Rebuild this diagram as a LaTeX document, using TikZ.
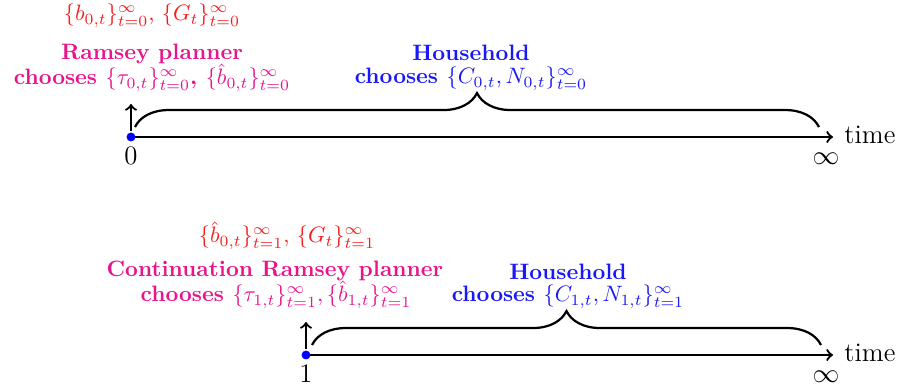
\documentclass[tikz,border=0pt]{standalone}
\usetikzlibrary{decorations.pathreplacing}
\definecolor{plannerpink}{RGB}{232,20,140}
\definecolor{govred}{RGB}{245,30,30}
\definecolor{hhblue}{RGB}{25,25,245}
\begin{document}
\begin{tikzpicture}[x=0.4484pt,y=-0.4484pt,
  axis/.style={->,line width=1pt},
  uparr/.style={->,line width=1pt},
  brc/.style={line width=1pt,decorate,decoration={brace,amplitude=15.2pt}},
  dot/.style={circle,fill=blue,inner sep=0pt,minimum size=4pt},
  lab/.style={anchor=base,inner sep=0pt},
  big/.style={lab,font=\large},
  gov/.style={lab,text=govred},
  plan/.style={lab,text=plannerpink,font=\bfseries},
  hh/.style={lab,text=hhblue,font=\bfseries},
  tim/.style={anchor=base west,inner sep=0pt,font=\large}]
\useasboundingbox (0,0) rectangle (900,389);

% ---------- upper timeline ----------
\coordinate (e0) at (833,137);
\coordinate (ua0) at (131,131);
\coordinate (ub0) at (131,104);
\coordinate (bl0) at (135,127);
\coordinate (br0) at (819,127);
\draw[axis] (131,137) -- (e0);
\node[dot] (d0) at (131,137) {};
\node[tim] (time0) at (844,144) {time};
\node[big] (zero) at (131,165) {$0$};
\node[big] (inf0) at (826,165) {$\infty$};
\draw[uparr] (ua0) -- (ub0);
\draw[brc] (bl0) -- (br0);

\node[gov] (g0) at (152,21) {$\{b_{0,t}\}_{t=0}^{\infty}$, $\{G_t\}_{t=0}^{\infty}$};
\node[plan] (p0a) at (152,60) {Ramsey planner};
\node[plan] (p0b) at (152,85) {chooses $\{\tau_{0,t}\}_{t=0}^{\infty}$, $\{\hat b_{0,t}\}_{t=0}^{\infty}$};
\node[hh] (h0a) at (471,60.5) {Household};
\node[hh] (h0b) at (471,84) {chooses $\{C_{0,t},N_{0,t}\}_{t=0}^{\infty}$};

% ---------- lower timeline ----------
\coordinate (e1) at (833,355);
\coordinate (ua1) at (306,349);
\coordinate (ub1) at (306,322);
\coordinate (bl1) at (312,345);
\coordinate (br1) at (821,345);
\draw[axis] (306,355) -- (e1);
\node[dot] (d1) at (306,355) {};
\node[tim] (time1) at (844,362) {time};
\node[big] (one) at (306,383) {$1$};
\node[big] (inf1) at (826,383) {$\infty$};
\draw[uparr] (ua1) -- (ub1);
\draw[brc] (bl1) -- (br1);

\node[gov] (g1) at (287,243) {$\{\hat b_{0,t}\}_{t=1}^{\infty}$, $\{G_t\}_{t=1}^{\infty}$};
\node[plan] (p1a) at (275,277) {Continuation Ramsey planner};
\node[plan] (p1b) at (276,302) {chooses $\{\tau_{1,t}\}_{t=1}^{\infty},\{\hat b_{1,t}\}_{t=1}^{\infty}$};
\node[hh] (h1a) at (568,280) {Household};
\node[hh] (h1b) at (568,302) {chooses $\{C_{1,t},N_{1,t}\}_{t=1}^{\infty}$};
\end{tikzpicture}
\end{document}
